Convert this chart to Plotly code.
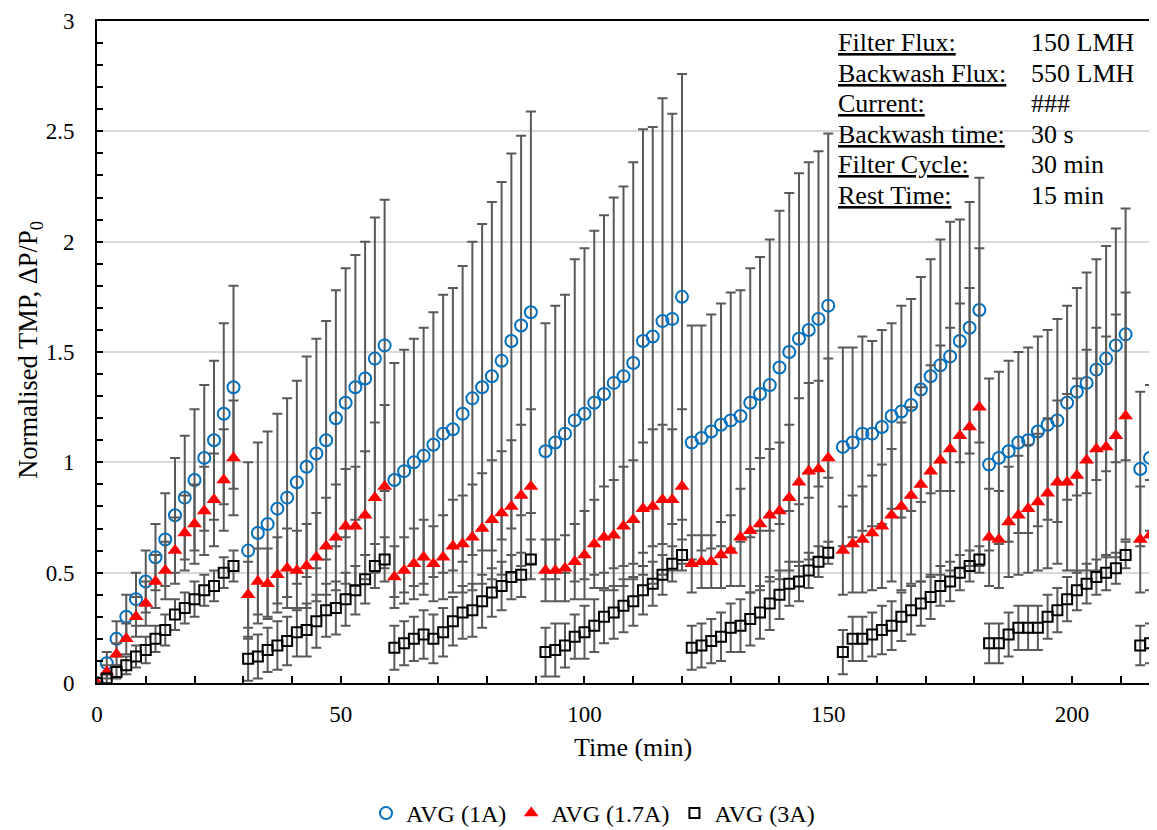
import plotly.graph_objects as go

# ---------------- data ----------------
time_min = [0, 2, 4, 6, 8, 10, 12, 14, 16, 18, 20, 22, 24, 26, 28,
            31, 33, 35, 37, 39, 41, 43, 45, 47, 49, 51, 53, 55, 57, 59,
            61, 63, 65, 67, 69, 71, 73, 75, 77, 79, 81, 83, 85, 87, 89,
            92, 94, 96, 98, 100, 102, 104, 106, 108, 110, 112, 114, 116, 118, 120,
            122, 124, 126, 128, 130, 132, 134, 136, 138, 140, 142, 144, 146, 148, 150,
            153, 155, 157, 159, 161, 163, 165, 167, 169, 171, 173, 175, 177, 179, 181,
            183, 185, 187, 189, 191, 193, 195, 197, 199, 201, 203, 205, 207, 209, 211,
            214, 216, 218]

avg_1A = [0.00, 0.09, 0.20, 0.30, 0.38, 0.46, 0.57, 0.65, 0.76, 0.84, 0.92, 1.02, 1.10, 1.22, 1.34,
          0.60, 0.68, 0.72, 0.79, 0.84, 0.91, 0.98, 1.04, 1.10, 1.20, 1.27, 1.34, 1.38, 1.47, 1.53,
          0.92, 0.96, 1.00, 1.03, 1.08, 1.13, 1.15, 1.22, 1.29, 1.34, 1.39, 1.46, 1.55, 1.62, 1.68,
          1.05, 1.09, 1.13, 1.19, 1.22, 1.27, 1.31, 1.36, 1.39, 1.45, 1.55, 1.57, 1.64, 1.65, 1.75,
          1.09, 1.11, 1.14, 1.17, 1.19, 1.21, 1.27, 1.31, 1.35, 1.43, 1.50, 1.56, 1.60, 1.65, 1.71,
          1.07, 1.09, 1.13, 1.13, 1.16, 1.21, 1.23, 1.26, 1.33, 1.39, 1.44, 1.48, 1.55, 1.61, 1.69,
          0.99, 1.02, 1.05, 1.09, 1.10, 1.14, 1.17, 1.19, 1.27, 1.32, 1.36, 1.42, 1.47, 1.53, 1.58,
          0.97, 1.02, 1.05]
err_1A = [0.00, 0.05, 0.08, 0.10, 0.12, 0.14, 0.15, 0.21, 0.26, 0.28, 0.32, 0.33, 0.36, 0.41, 0.46,
          0.40, 0.41, 0.42, 0.43, 0.45, 0.46, 0.50, 0.52, 0.54, 0.58, 0.61, 0.60, 0.62, 0.64, 0.66,
          0.53, 0.55, 0.56, 0.58, 0.60, 0.63, 0.64, 0.67, 0.71, 0.74, 0.79, 0.81, 0.85, 0.86, 0.91,
          0.58, 0.62, 0.63, 0.73, 0.75, 0.78, 0.81, 0.84, 0.86, 0.91, 0.96, 0.95, 1.01, 0.93, 1.01,
          0.53, 0.51, 0.53, 0.55, 0.58, 0.57, 0.61, 0.62, 0.66, 0.71, 0.72, 0.75, 0.76, 0.76, 0.78,
          0.45, 0.43, 0.44, 0.42, 0.44, 0.42, 0.48, 0.48, 0.51, 0.53, 0.57, 0.61, 0.55, 0.57, 0.60,
          0.39, 0.39, 0.41, 0.41, 0.42, 0.43, 0.43, 0.46, 0.44, 0.47, 0.50, 0.50, 0.51, 0.53, 0.57,
          0.35, 0.33, 0.32]

avg_17A = [0.00, 0.05, 0.13, 0.20, 0.30, 0.36, 0.46, 0.51, 0.60, 0.68, 0.72, 0.78, 0.83, 0.92, 1.02,
           0.40, 0.46, 0.45, 0.49, 0.52, 0.51, 0.53, 0.57, 0.62, 0.66, 0.71, 0.71, 0.76, 0.84, 0.89,
           0.48, 0.51, 0.54, 0.57, 0.54, 0.57, 0.62, 0.63, 0.66, 0.70, 0.74, 0.77, 0.80, 0.85, 0.89,
           0.51, 0.51, 0.52, 0.55, 0.58, 0.63, 0.66, 0.67, 0.71, 0.74, 0.79, 0.80, 0.83, 0.83, 0.89,
           0.54, 0.55, 0.55, 0.58, 0.60, 0.66, 0.69, 0.72, 0.76, 0.78, 0.84, 0.91, 0.96, 0.97, 1.02,
           0.60, 0.63, 0.65, 0.68, 0.71, 0.76, 0.80, 0.85, 0.90, 0.96, 1.01, 1.06, 1.12, 1.16, 1.25,
           0.66, 0.65, 0.73, 0.76, 0.79, 0.82, 0.86, 0.91, 0.91, 0.94, 1.01, 1.06, 1.07, 1.12, 1.21,
           0.65, 0.67, 0.72]
err_17A = [0.00, 0.03, 0.05, 0.07, 0.09, 0.10, 0.12, 0.13, 0.15, 0.17, 0.18, 0.20, 0.21, 0.23, 0.26,
           0.15, 0.15, 0.16, 0.17, 0.18, 0.18, 0.19, 0.20, 0.22, 0.24, 0.26, 0.27, 0.29, 0.34, 0.37,
           0.14, 0.15, 0.16, 0.17, 0.17, 0.19, 0.21, 0.22, 0.24, 0.25, 0.27, 0.28, 0.30, 0.32, 0.35,
           0.14, 0.14, 0.15, 0.17, 0.20, 0.20, 0.23, 0.25, 0.27, 0.27, 0.30, 0.35, 0.34, 0.32, 0.35,
           0.13, 0.12, 0.12, 0.15, 0.16, 0.22, 0.28, 0.30, 0.30, 0.31, 0.33, 0.38, 0.40, 0.40, 0.45,
           0.20, 0.22, 0.24, 0.26, 0.28, 0.30, 0.38, 0.40, 0.44, 0.48, 0.52, 0.55, 0.60, 0.63, 0.72,
           0.22, 0.22, 0.25, 0.27, 0.29, 0.31, 0.34, 0.37, 0.40, 0.44, 0.50, 0.55, 0.50, 0.55, 0.56,
           0.24, 0.25, 0.26]

avg_3A = [0.00, 0.02, 0.05, 0.08, 0.12, 0.15, 0.20, 0.24, 0.31, 0.34, 0.38, 0.42, 0.44, 0.50, 0.53,
          0.11, 0.12, 0.15, 0.17, 0.19, 0.23, 0.24, 0.28, 0.33, 0.34, 0.38, 0.42, 0.47, 0.53, 0.56,
          0.16, 0.18, 0.20, 0.22, 0.20, 0.23, 0.28, 0.32, 0.33, 0.37, 0.41, 0.44, 0.48, 0.49, 0.56,
          0.14, 0.15, 0.17, 0.21, 0.23, 0.26, 0.30, 0.32, 0.35, 0.37, 0.42, 0.45, 0.49, 0.54, 0.58,
          0.16, 0.17, 0.19, 0.21, 0.25, 0.26, 0.29, 0.32, 0.36, 0.40, 0.45, 0.46, 0.51, 0.55, 0.59,
          0.14, 0.20, 0.20, 0.22, 0.24, 0.26, 0.30, 0.33, 0.36, 0.39, 0.44, 0.46, 0.50, 0.53, 0.56,
          0.18, 0.18, 0.22, 0.25, 0.25, 0.25, 0.30, 0.33, 0.38, 0.42, 0.45, 0.48, 0.50, 0.52, 0.58,
          0.17, 0.18, 0.20]
err_3A = [0.00, 0.02, 0.03, 0.04, 0.05, 0.06, 0.06, 0.07, 0.07, 0.07, 0.08, 0.07, 0.07, 0.07, 0.07,
          0.10, 0.10, 0.10, 0.11, 0.11, 0.11, 0.12, 0.12, 0.12, 0.12, 0.12, 0.11, 0.11, 0.10, 0.10,
          0.10, 0.10, 0.10, 0.11, 0.11, 0.11, 0.11, 0.12, 0.12, 0.12, 0.11, 0.11, 0.10, 0.10, 0.09,
          0.11, 0.12, 0.10, 0.10, 0.12, 0.12, 0.12, 0.12, 0.12, 0.11, 0.11, 0.10, 0.09, 0.08, 0.07,
          0.10, 0.10, 0.10, 0.11, 0.11, 0.12, 0.12, 0.12, 0.12, 0.11, 0.10, 0.09, 0.08, 0.07, 0.05,
          0.10, 0.10, 0.10, 0.10, 0.11, 0.11, 0.11, 0.11, 0.10, 0.10, 0.09, 0.09, 0.08, 0.07, 0.06,
          0.09, 0.09, 0.10, 0.10, 0.10, 0.10, 0.10, 0.10, 0.10, 0.09, 0.09, 0.08, 0.08, 0.07, 0.06,
          0.09, 0.09, 0.09]

series_names = ["AVG (1A)", "AVG (1.7A)", "AVG (3A)"]
x_tick_vals = [0, 50, 100, 150, 200]
y_tick_vals = [0, 0.5, 1, 1.5, 2, 2.5, 3]
y_tick_text = ["0", "0.5", "1", "1.5", "2", "2.5", "3"]

info_labels = ["Filter Flux:", "Backwash Flux:", "Current:", "Backwash time:", "Filter Cycle:", "Rest Time:"]
info_values = ["150 LMH", "550 LMH", "###", "30 s", "30 min", "15 min"]

# ---------------- figure ----------------
FONT = "Times New Roman, Liberation Serif, serif"
ERR_COLOR = "#595959"

# the page body adds an 8 px offset, so the figure is 8 px smaller and shifted
OFF = 8
W, H = 1157 - OFF, 830 - OFF
PLOT_LEFT, PLOT_TOP, PLOT_BOTTOM = 97 - OFF, 21 - OFF, 683.4 - OFF
L, R, T = PLOT_LEFT, 0, PLOT_TOP
B = H - PLOT_BOTTOM
plot_w = W - L - R
plot_h = H - T - B


def px_to_paper_x(px):  # px given in screenshot coordinates
    return (px - OFF - L) / plot_w


def px_to_paper_y(py):
    return (PLOT_BOTTOM - (py - OFF)) / plot_h


fig = go.Figure()

fig.add_trace(go.Scatter(
    x=time_min, y=avg_1A, mode="markers", name=series_names[0],
    marker=dict(symbol="circle-open", size=12, color="#0070C0", line=dict(width=2, color="#0070C0")),
    error_y=dict(type="data", array=err_1A, visible=True, color=ERR_COLOR, thickness=2, width=5),
))
fig.add_trace(go.Scatter(
    x=time_min, y=avg_17A, mode="markers", name=series_names[1],
    marker=dict(symbol="triangle-up", size=13, color="#FF0000", line=dict(width=0)),
    error_y=dict(type="data", array=err_17A, visible=True, color=ERR_COLOR, thickness=2, width=5),
))
fig.add_trace(go.Scatter(
    x=time_min, y=avg_3A, mode="markers", name=series_names[2],
    marker=dict(symbol="square-open", size=10, color="#000000", line=dict(width=2, color="#000000")),
    error_y=dict(type="data", array=err_3A, visible=True, color=ERR_COLOR, thickness=2, width=5),
))

fig.update_xaxes(
    range=[0, 217.44], tickmode="array", tickvals=x_tick_vals,
    ticks="inside", ticklen=7, tickwidth=1.5, tickcolor="black",
    minor=dict(dtick=10, ticks="inside", ticklen=7, tickwidth=1.5, tickcolor="black", showgrid=False),
    showline=True, linewidth=2, linecolor="black", mirror=True,
    showgrid=False, zeroline=False, automargin=False,
    tickfont=dict(family=FONT, size=23, color="black"),
    ticklabelstandoff=9,
)
fig.update_yaxes(
    range=[0, 3], tickmode="array", tickvals=y_tick_vals, ticktext=y_tick_text,
    ticks="inside", ticklen=6, tickwidth=1.5, tickcolor="black",
    minor=dict(dtick=0.1, ticks="inside", ticklen=6, tickwidth=1.5, tickcolor="black", showgrid=False),
    showline=True, linewidth=2, linecolor="black", mirror=True,
    showgrid=True, gridcolor="#D9D9D9", gridwidth=1.5, zeroline=False, automargin=False,
    tickfont=dict(family=FONT, size=23, color="black"),
    ticklabelstandoff=16,
)

annotations = []
# axis titles
annotations.append(dict(
    text="Time (min)", x=px_to_paper_x(633), y=px_to_paper_y(748), xref="paper", yref="paper",
    xanchor="center", yanchor="middle", showarrow=False, font=dict(family=FONT, size=26, color="black")))
annotations.append(dict(
    text="Normalised TMP, ΔP/P<sub>0</sub>", x=px_to_paper_x(30), y=px_to_paper_y(350),
    xref="paper", yref="paper", xanchor="center", yanchor="middle", textangle=-90,
    showarrow=False, font=dict(family=FONT, size=26.5, color="black")))

# information table
row_mid = [43, 73.5, 104, 134.5, 165, 195.5]
for lab, val, ym in zip(info_labels, info_values, row_mid):
    annotations.append(dict(
        text="<u>" + lab + "</u>", x=px_to_paper_x(836), y=px_to_paper_y(ym), xref="paper", yref="paper",
        xanchor="left", yanchor="middle", showarrow=False, font=dict(family=FONT, size=26, color="black")))
    annotations.append(dict(
        text=val, x=px_to_paper_x(1029), y=px_to_paper_y(ym), xref="paper", yref="paper",
        xanchor="left", yanchor="middle", showarrow=False, font=dict(family=FONT, size=26, color="black")))

fig.update_layout(
    width=W, height=H,
    margin=dict(l=L, r=R, t=T, b=B, pad=0, autoexpand=False),
    plot_bgcolor="white", paper_bgcolor="white",
    font=dict(family=FONT, size=23, color="black"),
    showlegend=True,
    legend=dict(
        orientation="h", x=px_to_paper_x(366), y=px_to_paper_y(814),
        xanchor="left", yanchor="middle",
        font=dict(family=FONT, size=24, color="black"),
        bgcolor="rgba(0,0,0,0)", itemwidth=30,
    ),
    annotations=annotations,
)

fig.write_html("out.html")
